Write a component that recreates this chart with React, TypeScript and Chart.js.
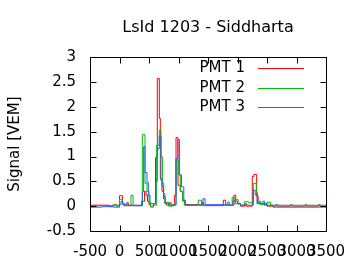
import { useEffect, useRef } from "react";
import { Chart, registerables } from "chart.js";

Chart.register(...registerables);

const chartTitle = "LsId 1203 - Siddharta";
const yAxisTitle = "Signal [VEM]";
const seriesLabels = ["PMT 1", "PMT 2", "PMT 3"];
const seriesColors = ["#ff0000", "#00c000", "#2060ff"];

const xMin = -500;
const xMax = 3500;
const xStep = 500;
const yMin = -0.5;
const yMax = 3;
const yStep = 0.5;

// Step traces: value holds from each x edge until the next one
const pmt1X = [-500, -175, -125, 0, 50, 75, 125, 150, 375, 425, 450, 475, 500, 525, 575, 610, 641, 675, 692, 720, 745, 770, 800, 850, 875, 930, 958, 992, 1030, 1070, 1100, 1400, 1425, 1760, 1800, 1940, 1970, 2000, 2050, 2125, 2150, 2250, 2280, 2325, 2350, 2400, 2500, 2650, 2680, 2900, 2925, 3150, 3175, 3375, 3400, 3500];
const pmt1Y = [0.02, -0.01, 0.02, 0.21, 0.06, 0.01, 0.07, 0.01, 0.1, 0.3, 0.22, 0.1, 0.03, 0.0, 0.05, 0.98, 2.57, 1.77, 0.55, 0.3, 0.15, 0.05, 0.02, 0.07, 0.02, 0.22, 1.38, 0.42, 0.3, 0.12, 0.03, 0.07, 0.01, 0.12, 0.02, 0.22, 0.1, 0.05, 0.0, 0.05, 0.0, 0.6, 0.64, 0.2, 0.07, 0.05, 0.0, 0.03, 0.0, 0.03, 0.0, 0.03, 0.0, 0.03, 0.0, 0.0];

const pmt2X = [-500, -100, -50, 0, 50, 75, 195, 230, 387, 432, 466, 500, 525, 575, 630, 675, 703, 731, 750, 770, 800, 830, 900, 958, 995, 1030, 1070, 1100, 1335, 1390, 1910, 1940, 1965, 2010, 2050, 2115, 2185, 2268, 2318, 2340, 2358, 2390, 2500, 2560, 2600, 3500];
const pmt2Y = [0.01, 0.03, 0.0, 0.14, 0.05, 0.01, 0.22, 0.01, 1.44, 0.46, 0.3, 0.08, -0.02, 0.02, 1.23, 1.53, 0.99, 0.46, 0.25, 0.05, 0.08, 0.0, 0.03, 0.93, 0.63, 0.3, 0.1, 0.02, 0.12, 0.02, 0.18, 0.1, 0.13, 0.05, 0.02, 0.09, 0.07, 0.46, 0.27, 0.05, 0.1, 0.03, 0.08, 0.02, 0.02, 0.02];

const pmt3X = [-500, -300, -100, 0, 25, 50, 125, 387, 409, 432, 466, 489, 517, 615, 641, 675, 703, 720, 745, 775, 850, 958, 988, 1018, 1050, 1090, 1120, 1415, 1450, 1835, 1860, 1920, 1960, 2050, 2268, 2300, 2330, 2430, 2460, 2600, 3500];
const pmt3Y = [-0.02, -0.01, -0.02, 0.03, 0.1, 0.04, 0.02, 0.29, 1.2, 0.68, 0.48, 0.22, 0.05, 0.5, 1.16, 1.41, 0.52, 0.4, 0.2, 0.06, 0.02, 0.96, 1.34, 0.63, 0.39, 0.12, 0.02, 0.15, 0.03, 0.08, 0.02, 0.1, 0.05, 0.02, 0.32, 0.22, 0.05, 0.1, 0.02, -0.02, -0.02];

const seriesX = [pmt1X, pmt2X, pmt3X];
const seriesY = [pmt1Y, pmt2Y, pmt3Y];

const FONT = '"DejaVu Sans", sans-serif';

const framePlugin = {
  id: "gnuplotFrame",
  afterDatasetsDraw(chart: any) {
    const { ctx, chartArea, scales } = chart;
    const left = Math.round(chartArea.left) + 0.5;
    const right = Math.round(chartArea.right) + 0.5;
    const top = Math.round(chartArea.top) + 0.5;
    const bottom = Math.round(chartArea.bottom) + 0.5;
    const tick = 6;
    ctx.save();
    ctx.strokeStyle = "#000";
    ctx.lineWidth = 1;
    ctx.beginPath();
    ctx.rect(left, top, right - left, bottom - top);
    for (const t of scales.x.ticks) {
      const px = Math.round(scales.x.getPixelForValue(t.value)) + 0.5;
      ctx.moveTo(px, bottom);
      ctx.lineTo(px, bottom - tick);
      ctx.moveTo(px, top);
      ctx.lineTo(px, top + tick);
    }
    for (const t of scales.y.ticks) {
      const py = Math.round(scales.y.getPixelForValue(t.value)) + 0.5;
      ctx.moveTo(left, py);
      ctx.lineTo(left + tick, py);
      ctx.moveTo(right, py);
      ctx.lineTo(right - tick, py);
    }
    ctx.stroke();

    // legend inside the plot, top right
    ctx.font = `15px ${FONT}`;
    ctx.textAlign = "right";
    ctx.textBaseline = "middle";
    chart.data.datasets.forEach((ds: any, i: number) => {
      const rowY = Math.round(chartArea.top + 11 + i * 19.3) + 0.5;
      ctx.fillStyle = "#000";
      ctx.fillText(ds.label, chartArea.right - 81, rowY);
      ctx.strokeStyle = ds.borderColor;
      ctx.beginPath();
      ctx.moveTo(chartArea.right - 68, rowY);
      ctx.lineTo(chartArea.right - 22, rowY);
      ctx.stroke();
    });
    ctx.restore();
  },
};

export default function App() {
  const canvasRef = useRef<HTMLCanvasElement | null>(null);

  useEffect(() => {
    document.body.style.margin = "0";
    const canvas = canvasRef.current;
    if (!canvas) return;
    const datasets = seriesLabels.map((label, i) => ({
      label,
      data: seriesX[i].map((x, j) => ({ x, y: seriesY[i][j] })),
      borderColor: seriesColors[i],
      backgroundColor: seriesColors[i],
      borderWidth: 1,
      pointRadius: 0,
      stepped: "before" as const,
      fill: false,
      order: 2 - i,
    }));
    const chart = new Chart(canvas, {
      type: "line",
      data: { datasets },
      plugins: [framePlugin],
      options: {
        animation: false,
        responsive: false,
        devicePixelRatio: 1,
        layout: { padding: { left: 0, right: 34, top: 0, bottom: 0 } },
        plugins: {
          legend: { display: false },
          tooltip: { enabled: false },
          title: {
            display: true,
            text: chartTitle,
            fullSize: false,
            color: "#000",
            font: { family: FONT, size: 16, weight: "normal" },
            padding: { top: 18, bottom: 20 },
          },
        },
        scales: {
          x: {
            type: "linear",
            min: xMin,
            max: xMax,
            grid: { display: false, drawTicks: false },
            border: { display: false },
            ticks: {
              stepSize: xStep,
              autoSkip: false,
              maxRotation: 0,
              minRotation: 0,
              padding: 12,
              color: "#000",
              font: { family: FONT, size: 15 },
              callback: (v: any) => String(v),
            },
            afterFit: (s: any) => {
              s.height = 39;
            },
          },
          y: {
            type: "linear",
            min: yMin,
            max: yMax,
            grid: { display: false, drawTicks: false },
            border: { display: false },
            title: {
              display: true,
              text: yAxisTitle,
              color: "#000",
              font: { family: FONT, size: 15 },
              padding: { top: 6, bottom: 0 },
            },
            ticks: {
              stepSize: yStep,
              padding: 14,
              color: "#000",
              font: { family: FONT, size: 15 },
              callback: (v: any) => String(Math.round(Number(v) * 10) / 10),
            },
            afterFit: (s: any) => {
              s.width = 90;
            },
          },
        },
      },
    });
    return () => chart.destroy();
  }, []);

  return (
    <div style={{ width: 360, height: 270, background: "#fff" }}>
      <canvas ref={canvasRef} width={360} height={270} style={{ display: "block" }} />
    </div>
  );
}
